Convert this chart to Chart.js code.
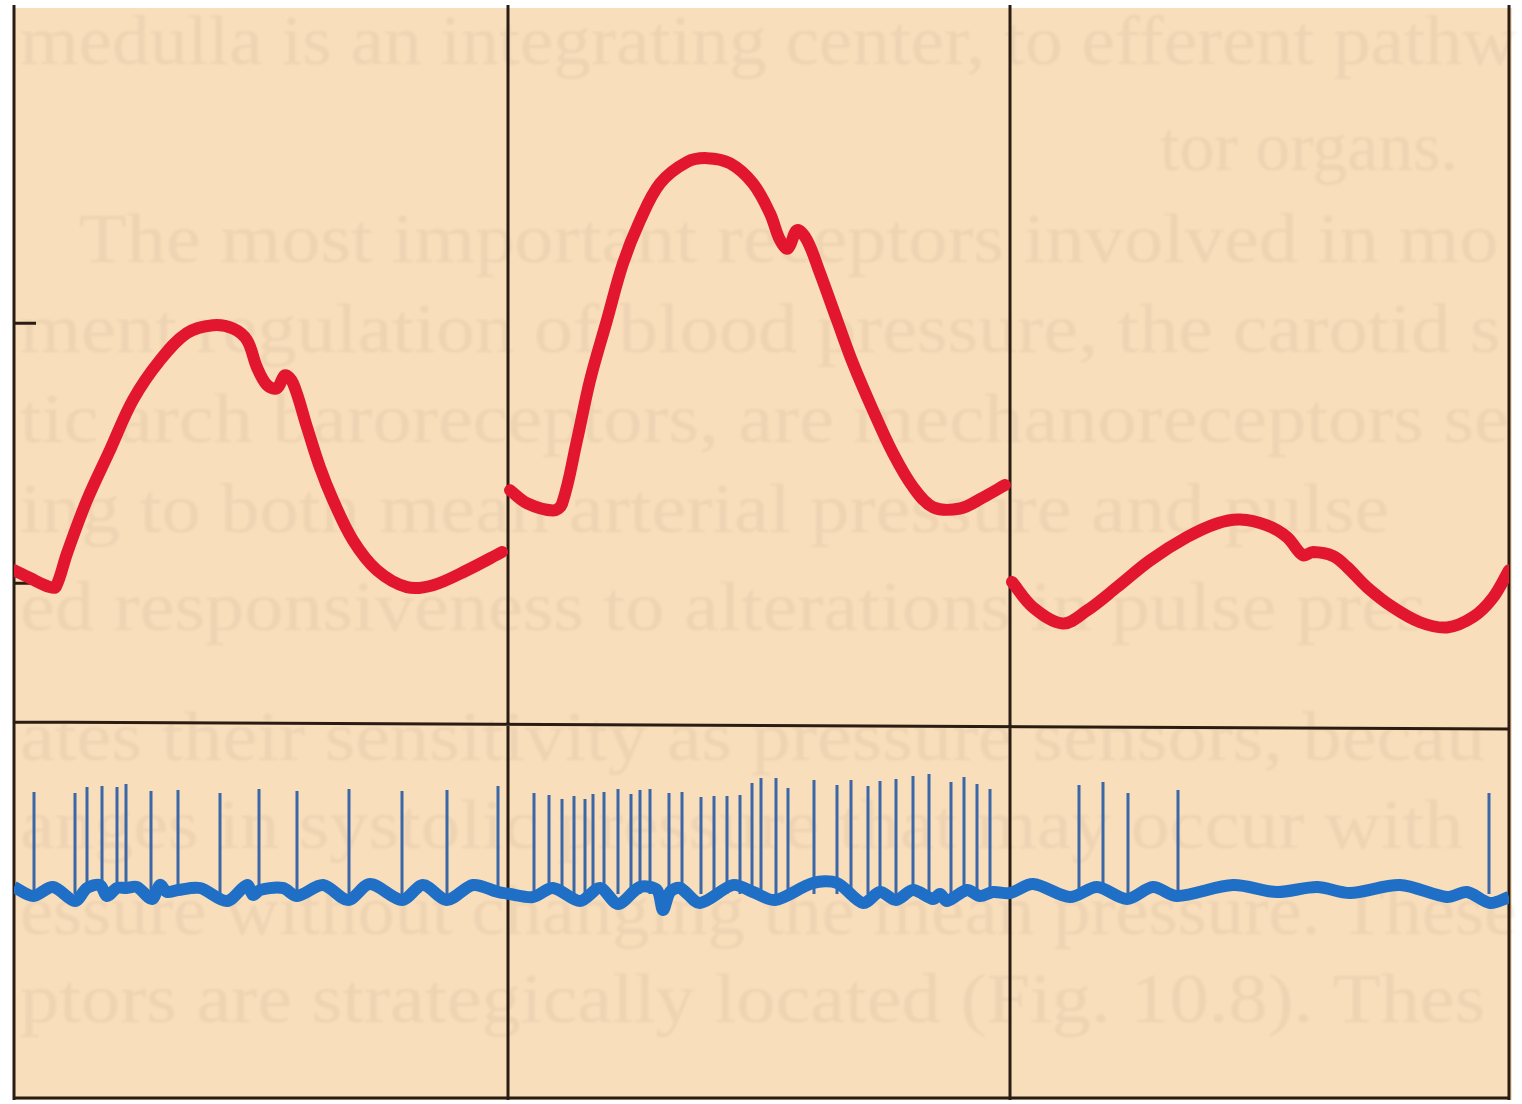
<!DOCTYPE html>
<html lang="en">
<head>
<meta charset="UTF-8">
<title>Arterial pressure and baroreceptor firing</title>
<style>
  html, body { margin: 0; padding: 0; background: #fff; }
  #wrap { width: 1522px; height: 1104px; }
</style>
</head>
<body>
<div id="wrap"><canvas id="chart" width="1522" height="1104"></canvas></div>
<script src="https://cdn.jsdelivr.net/npm/chart.js"></script>
<script>
// time in ms, three beats side by side
const panelEdges = [0, 988, 1992, 2990];
const pressureTicks = [80, 120]; // mmHg marks on the left edge

// arterial pressure, one beat per panel (mmHg)
const beat1Time = [0, 32, 72, 84, 106, 146, 192, 238, 292, 346, 398, 438, 466, 486, 506, 526, 542, 558, 586, 612, 638, 678, 726, 786, 838, 906, 976];
const beat1Pressure = [82.0, 80.8, 79.4, 79.5, 84.6, 92.8, 100.5, 108.2, 114.3, 118.5, 119.7, 119.2, 117.4, 113.2, 110.5, 110.0, 112.0, 110.8, 104.0, 97.8, 92.8, 86.6, 82.0, 79.4, 79.7, 82.0, 84.8];

const beat2Time = [992, 1026, 1078, 1096, 1126, 1152, 1186, 1218, 1252, 1292, 1346, 1386, 1432, 1478, 1512, 1532, 1548, 1566, 1586, 1612, 1646, 1678, 1718, 1758, 1798, 1838, 1892, 1938, 1982];
const beat2Pressure = [94.3, 92.3, 91.2, 92.2, 102.0, 111.2, 120.5, 129.2, 135.8, 141.5, 144.8, 145.4, 144.6, 141.5, 136.9, 132.8, 131.5, 134.3, 132.8, 127.7, 120.5, 113.8, 106.6, 100.0, 94.8, 91.7, 91.5, 93.2, 95.1];

const beat3Time = [1996, 2038, 2098, 2146, 2206, 2272, 2346, 2406, 2452, 2506, 2546, 2578, 2598, 2638, 2666, 2706, 2758, 2812, 2866, 2918, 2958, 2990];
const beat3Pressure = [80.2, 76.3, 73.8, 75.8, 79.4, 83.5, 87.1, 89.2, 89.8, 88.9, 87.1, 84.3, 84.8, 84.2, 82.5, 79.4, 76.3, 74.0, 73.2, 74.8, 77.8, 82.0];

// nerve recording: action potentials (time, peak height in arbitrary units)
const spikes1Time = [40, 122, 146, 176, 206, 224, 274, 328, 412, 490, 566, 670, 776, 866, 968];
const spikes1Height = [98, 97, 103, 104, 103, 106, 99, 100, 97, 101, 99, 101, 99, 100, 104];

const spikes2Time = [1040, 1070, 1096, 1120, 1142, 1158, 1180, 1208, 1234, 1252, 1272, 1310, 1336, 1374, 1400, 1426, 1452, 1476, 1494, 1524, 1548, 1600, 1646, 1674, 1708, 1732, 1764, 1798, 1830, 1874, 1900, 1926, 1952];
const spikes2Height = [97, 95, 91, 94, 91, 96, 98, 101, 96, 100, 101, 97, 98, 93, 94, 94, 95, 107, 112, 112, 102, 110, 105, 110, 104, 109, 111, 114, 116, 108, 113, 106, 101];

const spikes3Time = [2130, 2178, 2228, 2328, 2950];
const spikes3Height = [105, 108, 97, 100, 97];

// nerve baseline wobble
const baseTime = [0, 38, 78, 122, 146, 172, 186, 206, 224, 246, 276, 292, 306, 328, 372, 426, 466, 478, 492, 538, 566, 618, 668, 712, 776, 818, 866, 918, 968, 992,
  1038, 1078, 1132, 1172, 1208, 1252, 1286, 1298, 1312, 1332, 1372, 1438, 1478, 1522, 1598, 1646, 1698, 1732, 1764, 1798, 1838, 1852, 1866, 1906, 1932, 1958, 1992,
  2038, 2112, 2166, 2226, 2278, 2326, 2438, 2526, 2606, 2672, 2772, 2866, 2906, 2952, 2990];
const baseLevel = [3, -6, 3, -11, 2, 5, -6, 2, 2, 3, -9, 5, -2, 0, 2, -11, 5, -5, 0, 2, -6, 5, -10, 6, -10, 5, -10, 5, -2, -4,
  -7, 2, -11, 2, -14, 3, 0, -20, -2, 2, -13, 5, -2, -10, 7, 7, -13, -2, -10, 0, -9, -4, -11, 0, -6, -2, -3,
  6, -7, 3, -9, 3, -6, 5, -2, 3, -3, 5, -7, -2, -13, -7];

// divider between the two traces, in nerve units (left end, right end)
const dividerLevel = [168, 161];

// faint print showing through the paper
const ghostLines = [
  'medulla is an integrating center, to efferent pathw',
  'tor organs.',
  '   The most important receptors involved in mo',
  'ment regulation of blood pressure, the carotid s',
  'tic arch baroreceptors, are mechanoreceptors se',
  'ing to both mean arterial pressure and pulse',
  'ed responsiveness to alterations in pulse pres',
  'ates their sensitivity as pressure sensors, becau',
  'anges in systolic pressure that may occur with',
  'essure without changing the mean pressure. These',
  'ptors are strategically located (Fig. 10.8). Thes'
];
const ghostPos = [[20, 64], [1160, 170], [20, 262], [20, 352], [20, 442], [20, 532], [20, 630], [20, 760], [20, 848], [20, 934], [20, 1022]];

const toPoints = (xs, ys) => xs.map((x, i) => ({ x: x, y: ys[i] }));
const spikePoints = (xs, hs) => {
  const out = [];
  xs.forEach((x, i) => {
    out.push({ x: x, y: -4 }, { x: x, y: hs[i] }, { x: x, y: null });
  });
  return out;
};

const paper = {
  id: 'paper',
  beforeDraw(chart) {
    const { ctx, chartArea: a } = chart;
    ctx.save();
    ctx.fillStyle = '#f9debb';
    ctx.fillRect(a.left, a.top, a.right - a.left + 3, a.bottom - a.top);
    ctx.fillStyle = 'rgba(100, 88, 80, 0.07)';
    ctx.font = '70px "Liberation Serif"';
    ctx.filter = 'blur(1.2px)';
    ghostLines.forEach((t, i) => {
      const [gx, gy] = ghostPos[i];
      const w = ctx.measureText(t).width;
      let sx = t.length > 20 ? (a.right + 8 - gx) / w : 1;
      sx = Math.max(0.9, Math.min(1.12, sx));
      ctx.save();
      ctx.translate(gx, gy);
      ctx.scale(sx, 1);
      ctx.fillText(t, 0, 0);
      ctx.restore();
    });
    ctx.restore();
  },
  beforeDatasetsDraw(chart) {
    const { ctx, chartArea: a, scales } = chart;
    const x = scales.x, yP = scales.yP, yN = scales.yN;
    ctx.save();
    ctx.strokeStyle = '#2a1c12';
    ctx.lineWidth = 3;
    ctx.lineCap = 'butt';
    ctx.beginPath();
    panelEdges.forEach(e => {
      const px = Math.round(x.getPixelForValue(e));
      ctx.moveTo(px, a.top - 3);
      ctx.lineTo(px, a.bottom);
    });
    ctx.moveTo(a.left, a.bottom - 2);
    ctx.lineTo(a.right, a.bottom - 2);
    ctx.moveTo(x.getPixelForValue(panelEdges[0]), yN.getPixelForValue(dividerLevel[0]));
    ctx.lineTo(x.getPixelForValue(panelEdges[3]), yN.getPixelForValue(dividerLevel[1]));
    pressureTicks.forEach(p => {
      const py = yP.getPixelForValue(p);
      ctx.moveTo(a.left, py);
      ctx.lineTo(a.left + 22, py);
    });
    ctx.stroke();
    ctx.restore();
  }
};

const red = '#e2162f';
const pressureStyle = {
  borderColor: red, borderWidth: 12, tension: 0.35, pointRadius: 0,
  borderCapStyle: 'round', borderJoinStyle: 'round', fill: false, yAxisID: 'yP', order: 0
};

new Chart(document.getElementById('chart'), {
  type: 'line',
  data: {
    datasets: [
      Object.assign({ label: 'beat 1', data: toPoints(beat1Time, beat1Pressure) }, pressureStyle),
      Object.assign({ label: 'beat 2', data: toPoints(beat2Time, beat2Pressure) }, pressureStyle),
      Object.assign({ label: 'beat 3', data: toPoints(beat3Time, beat3Pressure) }, pressureStyle),
      {
        label: 'nerve baseline', data: toPoints(baseTime, baseLevel),
        borderColor: '#1f6fc6', borderWidth: 12, tension: 0.3, pointRadius: 0,
        borderJoinStyle: 'round', borderCapStyle: 'butt', fill: false, yAxisID: 'yN', order: 1
      },
      {
        label: 'action potentials',
        data: spikePoints(spikes1Time, spikes1Height)
          .concat(spikePoints(spikes2Time, spikes2Height))
          .concat(spikePoints(spikes3Time, spikes3Height)),
        borderColor: '#3b66a8', borderWidth: 3, tension: 0, pointRadius: 0,
        spanGaps: false, fill: false, yAxisID: 'yN', order: 2
      }
    ]
  },
  options: {
    responsive: false,
    animation: false,
    layout: { padding: { left: 14, right: 13, top: 8, bottom: 4 } },
    scales: {
      x: { type: 'linear', min: panelEdges[0], max: panelEdges[3], display: false },
      yP: { type: 'linear', min: 0.5, max: 168.5, display: false },
      yN: { type: 'linear', min: -210, max: 882, display: false }
    },
    plugins: { legend: { display: false }, tooltip: { enabled: false } }
  },
  plugins: [paper]
});
</script>
</body>
</html>
